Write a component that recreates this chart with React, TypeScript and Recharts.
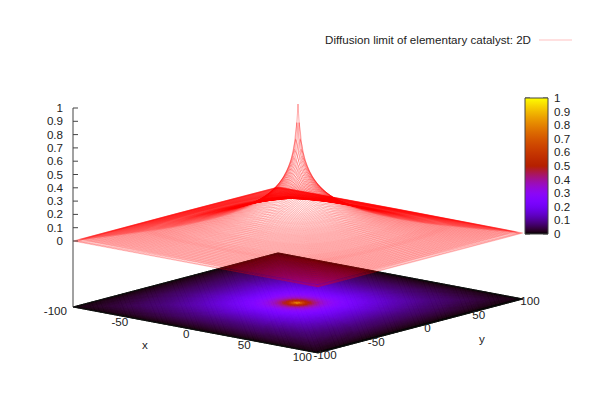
import { ComposedChart, Line, Scatter, XAxis, YAxis, ReferenceArea, ReferenceLine } from 'recharts'

// profile of the surface: height on each contour, contour 100 is the box edge
const contours = [0, 0.5, 1, 1.5, 2, 2.5, 3, 3.5, 4, 5, 6, 7, 8, 9, 10, 11, 12, 13, 14, 15, 16, 17, 18, 19, 20, 22, 24, 26, 28, 30, 32, 34, 36, 38, 40, 42, 44, 46, 48, 50, 52, 54, 56, 58, 60, 62, 64, 66, 68, 70, 72, 74, 76, 78, 80, 82, 84, 86, 88, 90, 92, 94, 96, 98, 100]
const heights = [1, 0.93, 0.86, 0.79, 0.735, 0.69, 0.655, 0.625, 0.6, 0.56, 0.527, 0.498, 0.474, 0.451, 0.432, 0.414, 0.398, 0.383, 0.369, 0.356, 0.344, 0.332, 0.322, 0.311, 0.302, 0.284, 0.268, 0.253, 0.24, 0.228, 0.217, 0.206, 0.197, 0.187, 0.178, 0.17, 0.162, 0.154, 0.147, 0.14, 0.133, 0.126, 0.119, 0.113, 0.107, 0.101, 0.095, 0.089, 0.083, 0.078, 0.073, 0.068, 0.064, 0.06, 0.055, 0.05, 0.045, 0.04, 0.035, 0.03, 0.025, 0.02, 0.015, 0.01, 0]

const xTicks = [-100, -50, 0, 50, 100]
const yTicks = [-100, -50, 0, 50, 100]
const zTicks = [0, 0.1, 0.2, 0.3, 0.4, 0.5, 0.6, 0.7, 0.8, 0.9, 1]
const legendText = 'Diffusion limit of elementary catalyst: 2D'

const W = 598
const H = 419
const FONT = '"Liberation Sans", Arial, sans-serif'
const TEXT = '#222'
const AXIS = '#444'
const BASE_Z = -0.496
const CELL = 2
const MESH = 1

// fixed gnuplot view (rot 60,30) worked out from the corners of the box
const project = (x: number, y: number, z: number) => ({
  sx: 298 + 1.225 * x + 1.025 * y,
  sy: 237 + 0.23 * x - 0.27 * y - 133 * z,
})

// contours are round near the centre and turn into the square edge further out
const contourOf = (x: number, y: number) => {
  const m = Math.max(Math.abs(x), Math.abs(y))
  const t = m / 100
  return Math.hypot(x, y) * (1 - t) + m * t
}

const heightAt = (c: number) => {
  let best = 0
  contours.forEach((v, i) => {
    if (Math.abs(v - c) < Math.abs(contours[best] - c)) best = i
  })
  return heights[best]
}

// gnuplot's default palette, rgbformulae 7,5,15
const palette = (z: number) => {
  const r = Math.sqrt(z)
  const g = z * z * z
  const b = Math.max(0, Math.sin(2 * Math.PI * z))
  return `rgb(${Math.round(r * 255)},${Math.round(g * 255)},${Math.round(b * 255)})`
}

const range = (step: number) => {
  const out: number[] = []
  for (let v = -100; v <= 100; v += step) out.push(v)
  return out
}

// where a mesh line at offset a meets contour c, found by bisection along the line
const crossing = (a: number, c: number) => {
  if (c >= 100) return 100
  let lo = 0
  let hi = 100
  for (let i = 0; i < 30; i++) {
    const mid = (lo + hi) / 2
    if (contourOf(a, mid) < c) lo = mid
    else hi = mid
  }
  return (lo + hi) / 2
}

// vertices of a mesh line are its crossings with the read contours, so each has a read height
const vertices = (a: number) => {
  const out: { t: number; z: number }[] = []
  contours.forEach((c, i) => {
    if (c < Math.abs(a)) return
    const t = crossing(a, c)
    out.push({ t, z: heights[i] })
    if (t > 1e-6) out.push({ t: -t, z: heights[i] })
  })
  return out.sort((p, q) => p.t - q.t)
}
const meshLines = range(MESH)
const meshX = meshLines.map((a) => vertices(a).map((v) => project(a, v.t, v.z)))
const meshY = meshLines.map((a) => vertices(a).map((v) => project(v.t, a, v.z)))

const baseCells: { sx: number; sy: number; z: number }[] = []
for (const x of range(CELL).slice(0, -1)) {
  for (const y of range(CELL).slice(0, -1)) {
    const cx = x + CELL / 2
    const cy = y + CELL / 2
    baseCells.push({ ...project(cx, cy, BASE_Z), z: heightAt(contourOf(cx, cy)) })
  }
}

const baseEdge = [
  project(-100, -100, BASE_Z),
  project(100, -100, BASE_Z),
  project(100, 100, BASE_Z),
  project(-100, 100, BASE_Z),
  project(-100, -100, BASE_Z),
]
const zAxisLine = [project(-100, -100, BASE_Z), project(-100, -100, 1)]
const zTickData = zTicks.map((z) => ({ ...project(-100, -100, z), label: String(z) }))
const xTickData = xTicks.map((x) => ({ ...project(x, -100, BASE_Z), label: String(x) }))
const yTickData = yTicks.map((y) => ({ ...project(100, y, BASE_Z), label: String(y) }))

// colour box sits beside the plot, its scale runs from the z range to these rows
const barLeft = 525
const barRight = 548
const barTop = 98
const barBottom = 234
const barY = (z: number) => barBottom - (barBottom - barTop) * z
const barTickData = zTicks.map((z) => ({ sx: barLeft, sy: barY(z), label: String(z) }))
const barStops: number[] = []
for (let i = 0; i <= 50; i++) barStops.push(i / 50)

const legendPoint = [{ sx: 531, sy: 40, label: legendText }]
const xTitle = [{ sx: 145, sy: 345, label: 'x' }]
const yTitle = [{ sx: 482, sy: 339, label: 'y' }]

const Label = ({ x, y, anchor, children }: any) => (
  <text x={x} y={y} dy={4} textAnchor={anchor} fontFamily={FONT} fontSize={11.6} fill={TEXT}>
    {children}
  </text>
)

const BaseCell = ({ cx, cy, payload }: any) => {
  const a = 1.225 * CELL * 0.5
  const b = 0.23 * CELL * 0.5
  const c = 1.025 * CELL * 0.5
  const d = -0.27 * CELL * 0.5
  const fill = palette(payload.z)
  const path = `M${cx - a - c} ${cy - b - d}L${cx + a - c} ${cy + b - d}L${cx + a + c} ${cy + b + d}L${cx - a + c} ${cy - b + d}Z`
  return <path d={path} fill={fill} stroke={fill} strokeWidth={0.5} />
}

const ZTick = ({ cx, cy, payload }: any) => (
  <g>
    <line x1={cx} x2={cx + 5} y1={cy} y2={cy} stroke={AXIS} />
    <Label x={cx - 10} y={cy} anchor="end">{payload.label}</Label>
  </g>
)
const XTick = ({ cx, cy, payload }: any) => (
  <Label x={cx - 6} y={cy + 4} anchor="end">{payload.label}</Label>
)
const YTick = ({ cx, cy, payload }: any) => (
  <Label x={cx + 7} y={cy + 2.5} anchor="middle">{payload.label}</Label>
)
const BarTick = ({ cx, cy, payload }: any) => (
  <g>
    <line x1={cx} x2={cx + 5} y1={cy} y2={cy} stroke={AXIS} />
    <line x1={cx + 23} x2={cx + 18} y1={cy} y2={cy} stroke={AXIS} />
    <Label x={cx + 29} y={cy} anchor="start">{payload.label}</Label>
  </g>
)
const Title = ({ cx, cy, payload }: any) => <Label x={cx} y={cy} anchor="middle">{payload.label}</Label>
const LegendText = ({ cx, cy, payload }: any) => <Label x={cx} y={cy} anchor="end">{payload.label}</Label>

export default function App() {
  return (
    <div style={{ position: 'absolute', left: 0, top: 0, background: '#fff' }}>
      <ComposedChart width={W} height={H} margin={{ top: 0, right: 0, bottom: 0, left: 0 }}>
        <defs>
          <linearGradient id="barFill" x1="0" y1="1" x2="0" y2="0">
            {barStops.map((z) => (
              <stop key={z} offset={z} stopColor={palette(z)} />
            ))}
          </linearGradient>
        </defs>
        <XAxis type="number" dataKey="sx" domain={[0, W]} hide />
        <YAxis type="number" dataKey="sy" domain={[0, H]} reversed hide />

        <Scatter data={baseCells} shape={<BaseCell />} isAnimationActive={false} zIndex={10} />
        <Line data={baseEdge} dataKey="sy" stroke="#111" strokeWidth={1} dot={false} activeDot={false} isAnimationActive={false} zIndex={20} />
        {meshX.map((pts, i) => (
          <Line key={`mx${i}`} data={pts} dataKey="sy" stroke="#ff0000" strokeWidth={0.18} dot={false} activeDot={false} isAnimationActive={false} zIndex={30} />
        ))}
        {meshY.map((pts, i) => (
          <Line key={`my${i}`} data={pts} dataKey="sy" stroke="#ff0000" strokeWidth={0.18} dot={false} activeDot={false} isAnimationActive={false} zIndex={30} />
        ))}
        <Line data={zAxisLine} dataKey="sy" stroke={AXIS} strokeWidth={1} dot={false} activeDot={false} isAnimationActive={false} zIndex={40} />

        <ReferenceArea x1={barLeft} x2={barRight} y1={barTop} y2={barBottom} fill="url(#barFill)" fillOpacity={1} stroke={AXIS} strokeWidth={1} ifOverflow="visible" />
        <ReferenceLine segment={[{ x: 539, y: 40 }, { x: 572, y: 40 }]} stroke="#ff0000" strokeWidth={0.25} ifOverflow="visible" />

        <Scatter data={zTickData} shape={<ZTick />} isAnimationActive={false} zIndex={50} />
        <Scatter data={xTickData} shape={<XTick />} isAnimationActive={false} zIndex={50} />
        <Scatter data={yTickData} shape={<YTick />} isAnimationActive={false} zIndex={50} />
        <Scatter data={barTickData} shape={<BarTick />} isAnimationActive={false} zIndex={50} />
        <Scatter data={xTitle} shape={<Title />} isAnimationActive={false} zIndex={50} />
        <Scatter data={yTitle} shape={<Title />} isAnimationActive={false} zIndex={50} />
        <Scatter data={legendPoint} shape={<LegendText />} isAnimationActive={false} zIndex={50} />
      </ComposedChart>
    </div>
  )
}
